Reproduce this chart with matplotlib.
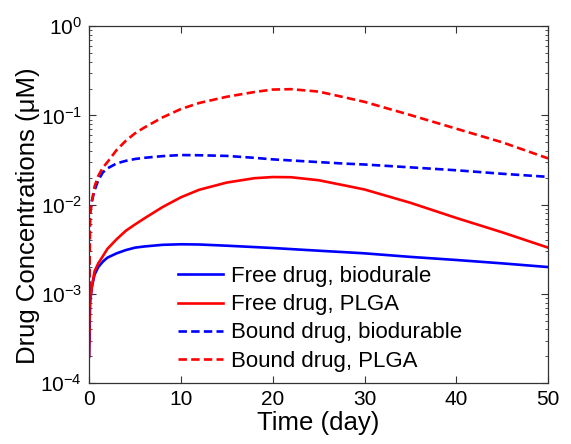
import matplotlib
matplotlib.use("Agg")
import matplotlib.pyplot as plt
from matplotlib.ticker import LogLocator, NullFormatter

plt.rcParams['font.family'] = ['Liberation Sans', 'DejaVu Sans']
plt.rcParams['mathtext.fontset'] = 'custom'
plt.rcParams['mathtext.rm'] = 'Liberation Sans'
plt.rcParams['axes.unicode_minus'] = False

# Time points (day)
t = [0, 0.1, 0.3, 0.6, 1, 1.5, 2, 3, 4, 5, 6, 8, 10, 12, 15, 18, 20, 22,
     25, 28, 30, 35, 40, 45, 50]

free_biodurable = [2e-4, 8e-4, 1.2e-3, 1.65e-3, 2.0e-3, 2.3e-3, 2.55e-3, 2.85e-3,
                   3.1e-3, 3.3e-3, 3.4e-3, 3.55e-3, 3.6e-3, 3.58e-3, 3.47e-3,
                   3.35e-3, 3.27e-3, 3.18e-3, 3.05e-3, 2.93e-3, 2.85e-3, 2.6e-3,
                   2.4e-3, 2.2e-3, 2.0e-3]
free_plga = [2e-4, 8e-4, 1.2e-3, 1.8e-3, 2.2e-3, 2.65e-3, 3.2e-3, 4.1e-3, 5.1e-3,
             6.0e-3, 7.0e-3, 9.4e-3, 0.0121, 0.0147, 0.0177, 0.0198, 0.0204,
             0.0203, 0.0188, 0.0163, 0.0148, 0.0105, 0.0071, 0.0049, 0.0033]
bound_biodurable = [3e-4, 8e-3, 0.011, 0.0145, 0.0188, 0.023, 0.0255, 0.029,
                    0.031, 0.0325, 0.0335, 0.035, 0.036, 0.0358, 0.0352,
                    0.0335, 0.0322, 0.0313, 0.030, 0.0288, 0.0282, 0.0262,
                    0.0243, 0.0222, 0.0205]
bound_plga = [3e-4, 7.5e-3, 0.0107, 0.016, 0.021, 0.026, 0.030, 0.041, 0.052,
              0.063, 0.073, 0.095, 0.118, 0.138, 0.162, 0.183, 0.195, 0.197,
              0.185, 0.158, 0.142, 0.101, 0.071, 0.050, 0.033]

labels = ['Free drug, biodurale', 'Free drug, PLGA',
          'Bound drug, biodurable', 'Bound drug, PLGA']

fig = plt.figure(figsize=(5.71, 4.44), dpi=100)
ax = fig.add_axes([0.156, 0.137, 0.804, 0.804])

lw = 1.9
dash = (0, (3.2, 1.6))
ax.plot(t, free_biodurable, color='#0000ff', lw=lw, label=labels[0])
ax.plot(t, free_plga, color='#ff0000', lw=lw, label=labels[1])
ax.plot(t, bound_biodurable, color='#0000ff', lw=lw, ls=dash, label=labels[2])
ax.plot(t, bound_plga, color='#ff0000', lw=lw, ls=dash, label=labels[3])

ax.set_yscale('log')
ax.set_xlim(0, 50)
ax.set_ylim(1e-4, 1)
ax.set_xticks([0, 10, 20, 30, 40, 50])
ax.yaxis.set_major_locator(LogLocator(base=10, numticks=10))
ax.yaxis.set_minor_locator(LogLocator(base=10, subs=range(2, 10), numticks=50))
ax.yaxis.set_minor_formatter(NullFormatter())

ax.tick_params(which='both', direction='in', top=True, right=True,
               colors='#333333', labelcolor='black', labelsize=15, pad=5)
ax.tick_params(which='major', length=5, width=0.8)
ax.tick_params(which='minor', length=2.5, width=0.6)
for s in ax.spines.values():
    s.set_color('#333333')
    s.set_linewidth(0.9)

ax.set_xlabel('Time (day)', fontsize=18.5, labelpad=1)
ax.set_ylabel('Drug Concentrations (\u03bcM)', fontsize=18.5)
ax.yaxis.set_label_coords(-0.107, 0.468)

leg = ax.legend(loc='lower left', bbox_to_anchor=(0.16, -0.011), frameon=False,
                fontsize=16, handlelength=2.0, handletextpad=0.4,
                labelspacing=0.32, borderaxespad=0.3)

fig.savefig('out.png', dpi=100)
